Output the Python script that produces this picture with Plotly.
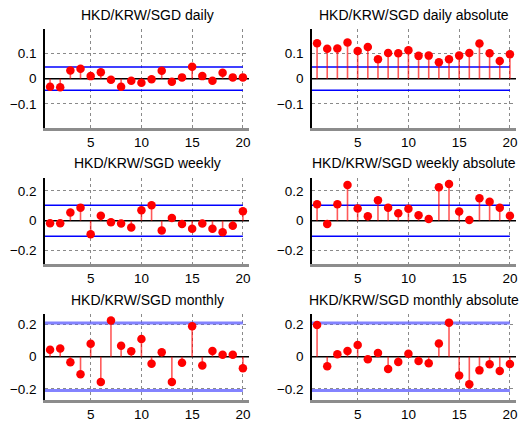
import plotly.graph_objects as go

lags = list(range(1, 21))

daily = [-0.032, -0.034, 0.032, 0.039, 0.010, 0.025, -0.004, -0.032, -0.008, -0.016,
         -0.002, 0.031, -0.012, 0.005, 0.047, 0.010, -0.008, 0.023, 0.005, 0.005]
daily_abs = [0.140, 0.118, 0.119, 0.143, 0.109, 0.125, 0.077, 0.101, 0.100, 0.112,
             0.090, 0.091, 0.065, 0.077, 0.091, 0.101, 0.139, 0.100, 0.070, 0.096]
weekly = [-0.017, -0.017, 0.056, 0.088, -0.090, 0.033, -0.010, -0.019, -0.045, 0.070,
          0.104, -0.065, 0.019, -0.022, -0.054, -0.019, -0.054, -0.077, -0.033, 0.063]
weekly_abs = [0.110, -0.021, 0.110, 0.240, 0.082, 0.030, 0.137, 0.087, 0.050, 0.080,
              0.037, 0.011, 0.224, 0.247, 0.062, 0.005, 0.151, 0.128, 0.087, 0.034]
monthly = [0.043, 0.051, -0.034, -0.109, 0.081, -0.157, 0.226, 0.068, 0.034, 0.111,
           -0.043, 0.028, -0.157, -0.038, 0.191, -0.055, 0.036, 0.013, 0.013, -0.072]
monthly_abs = [0.198, -0.060, 0.015, 0.036, 0.074, -0.015, 0.023, -0.077, -0.032, 0.019,
               -0.026, -0.040, 0.083, 0.213, -0.117, -0.172, -0.085, -0.047, -0.089, -0.045]

titles = ["HKD/KRW/SGD daily", "HKD/KRW/SGD daily absolute",
          "HKD/KRW/SGD weekly", "HKD/KRW/SGD weekly absolute",
          "HKD/KRW/SGD monthly", "HKD/KRW/SGD monthly absolute"]
series = [daily, daily_abs, weekly, weekly_abs, monthly, monthly_abs]
bounds = [0.046, 0.046, 0.104, 0.104, 0.21, 0.21]
y_ticks = [[-0.1, 0, 0.1], [-0.1, 0, 0.1], [-0.2, 0, 0.2], [-0.2, 0, 0.2],
           [-0.2, 0, 0.2], [-0.2, 0, 0.2]]
y_ranges = [[-0.195, 0.195], [-0.195, 0.195], [-0.29, 0.29], [-0.29, 0.29],
            [-0.27, 0.27], [-0.27, 0.27]]
x_ticks = [5, 10, 15, 20]

W, H = 522, 423
col_px = [(45, 249), (312, 516)]
row_px = [(29.3, 128), (177.5, 264), (313.5, 400)]

fig = go.Figure()
shapes = []
annotations = []

for i, vals in enumerate(series):
    r, c = divmod(i, 2)
    n = i + 1
    xa = "x" if n == 1 else f"x{n}"
    ya = "y" if n == 1 else f"y{n}"
    x0p, x1p = col_px[c]
    t_px, b_px = row_px[r]
    xdom = [x0p / W, x1p / W]
    ydom = [(H - b_px) / H, (H - t_px) / H]

    axis_x = dict(domain=xdom, range=[0.5, 20.6], anchor=ya, tickvals=x_ticks,
                  showgrid=True, gridcolor="#8a8a8a", griddash="dot", gridwidth=1,
                  showline=True, linecolor="#8c8c8c", linewidth=3, zeroline=False,
                  ticks="", tickfont=dict(size=13.5, color="black"))
    axis_y = dict(domain=ydom, range=y_ranges[i], anchor=xa, tickvals=y_ticks[i],
                  showgrid=True, gridcolor="#8a8a8a", griddash="dot", gridwidth=1,
                  showline=True, linecolor="black", linewidth=1.5, zeroline=False,
                  ticks="", ticklabelstandoff=4,
                  tickfont=dict(size=13.5, color="black"))
    fig.update_layout({("xaxis" if n == 1 else f"xaxis{n}"): axis_x,
                       ("yaxis" if n == 1 else f"yaxis{n}"): axis_y})

    # confidence bounds
    monthly_style = r == 2
    bcol = "rgba(90,90,255,0.75)" if monthly_style else "blue"
    bw = 3 if monthly_style else 1.5
    for b in (bounds[i], -bounds[i]):
        fig.add_trace(go.Scatter(x=[0.5, 20], y=[b, b], mode="lines",
                                 line=dict(color=bcol, width=bw),
                                 xaxis=xa, yaxis=ya, hoverinfo="skip",
                                 showlegend=False))

    # zero reference line
    fig.add_trace(go.Scatter(x=[0.5, 20.6], y=[0, 0], mode="lines",
                             line=dict(color="black", width=1.5),
                             xaxis=xa, yaxis=ya, hoverinfo="skip",
                             showlegend=False))

    # stems
    sx, sy = [], []
    for k, v in zip(lags, vals):
        sx += [k, k, None]
        sy += [0, v, None]
    fig.add_trace(go.Scatter(x=sx, y=sy, mode="lines",
                             line=dict(color="rgba(255,0,0,0.65)", width=1.6),
                             xaxis=xa, yaxis=ya, hoverinfo="skip",
                             showlegend=False))
    # markers
    fig.add_trace(go.Scatter(x=lags, y=vals, mode="markers",
                             marker=dict(color="red", size=8.5, line=dict(width=0)),
                             xaxis=xa, yaxis=ya, showlegend=False))

    annotations.append(dict(text=titles[i], xref="paper", yref="paper",
                            x=(x0p + x1p) / 2 / W, y=(H - (t_px - 14)) / H,
                            xanchor="center", yanchor="middle", showarrow=False,
                            font=dict(size=14, color="black")))

fig.update_layout(width=W, height=H, margin=dict(l=0, r=0, t=0, b=0),
                  paper_bgcolor="white", plot_bgcolor="white",
                  font=dict(family="Liberation Sans, Arial, sans-serif"),
                  annotations=annotations, showlegend=False)

fig.write_html("out.html")
